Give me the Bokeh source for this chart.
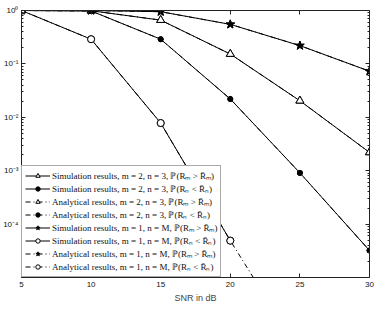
from bokeh.plotting import figure
from bokeh.models import Range1d, FixedTicker, LinearAxis, LogAxis
from bokeh.embed import file_html
from bokeh.resources import INLINE

# ---- data ----
snr = [5, 10, 15, 20, 25, 30]
sim_m2_Rm = [1.0, 0.99, 0.66, 0.153, 0.0204, 0.0022]
sim_m2_Rn = [1.0, 0.98, 0.29, 0.022, 0.00091, 0.000032]
ana_m2_Rm = [1.0, 0.99, 0.66, 0.153, 0.0204, 0.0022]
ana_m2_Rn = [1.0, 0.98, 0.29, 0.022, 0.00091, 0.000032]
sim_m1_Rm = [1.0, 1.0, 0.95, 0.55, 0.22, 0.073]
snr_sim_m1_Rn = [5, 10, 15, 20]
sim_m1_Rn = [1.0, 0.29, 0.0078, 0.000049]
ana_m1_Rm = [1.0, 1.0, 0.95, 0.55, 0.22, 0.073]
ana_m1_Rn = [1.0, 0.29, 0.0078, 0.000049, 0.0000004, 0.000000003]

x_ticks = [5, 10, 15, 20, 25, 30]
y_ticks = [1e-5, 1e-4, 1e-3, 1e-2, 1e-1, 1.0]
y_tick_labels = ["", "10\u207b\u2074", "10\u207b\u00b3", "10\u207b\u00b2", "10\u207b\u00b9", "10\u2070"]

labels = [
    "Simulation results, m = 2, n = 3, \u2119(R\u2098 > R\u0304\u2098)",
    "Simulation results, m = 2, n = 3, \u2119(R\u2099 < R\u0304\u2099)",
    "Analytical results, m = 2, n = 3, \u2119(R\u2098 > R\u0304\u2098)",
    "Analytical results, m = 2, n = 3, \u2119(R\u2099 < R\u0304\u2099)",
    "Simulation results, m = 1, n = M, \u2119(R\u2098 > R\u0304\u2098)",
    "Simulation results, m = 1, n = M, \u2119(R\u2099 < R\u0304\u2099)",
    "Analytical results, m = 1, n = M, \u2119(R\u2098 > R\u0304\u2098)",
    "Analytical results, m = 1, n = M, \u2119(R\u2099 < R\u0304\u2099)",
]

minor = [k * 10.0 ** e for e in range(-5, 0) for k in range(2, 10)]

p = figure(width=374, height=305, x_range=Range1d(5, 30), y_range=Range1d(1e-5, 1.0),
           y_axis_type="log", output_backend="svg", toolbar_location=None,
           min_border_left=18, min_border_right=5, min_border_top=10, min_border_bottom=24)
p.grid.visible = False
p.outline_line_color = None

AX = "#222222"
TICK_FONT = "Liberation Sans"

def style_axis(ax):
    ax.axis_line_color = AX
    ax.major_tick_line_color = AX
    ax.minor_tick_line_color = AX
    ax.major_tick_in = 4
    ax.major_tick_out = 0
    ax.minor_tick_in = 2
    ax.minor_tick_out = 0
    ax.major_label_text_font = TICK_FONT
    ax.major_label_text_font_size = "8px"
    ax.major_label_text_color = "#111111"

def hide_labels(ax, ticks):
    ax.major_label_overrides = {t: "" for t in ticks}
    ax.major_label_text_alpha = 0
    ax.major_label_standoff = 0

xb = p.below[0]
xb.ticker = FixedTicker(ticks=x_ticks)
style_axis(xb)
xb.major_label_standoff = 4
xb.axis_label = "SNR in dB"
xb.axis_label_text_font = TICK_FONT
xb.axis_label_text_font_style = "normal"
xb.axis_label_text_font_size = "9px"
xb.axis_label_standoff = 3

yl = p.left[0]
yl.ticker = FixedTicker(ticks=y_ticks, minor_ticks=minor)
yl.major_label_overrides = dict(zip(y_ticks, y_tick_labels))
style_axis(yl)
yl.major_label_standoff = 3

xt = LinearAxis(ticker=FixedTicker(ticks=x_ticks))
style_axis(xt)
hide_labels(xt, x_ticks)
p.add_layout(xt, "above")

yr = LogAxis(ticker=FixedTicker(ticks=y_ticks, minor_ticks=minor))
style_axis(yr)
hide_labels(yr, y_ticks)
p.add_layout(yr, "right")

SOLID = "solid"
DASHDOT = "5 3 1 3"

def series(x, y, label, dash, marker, size, fill):
    p.line(x, y, line_color="black", line_width=1, line_dash=dash, legend_label=label)
    p.scatter(x, y, marker=marker, size=size, line_color="black", line_width=1,
              fill_color=fill, legend_label=label)

series(snr, ana_m1_Rn, labels[7], DASHDOT, "circle", 7, "white")
series(snr, ana_m1_Rm, labels[6], DASHDOT, "star", 9, "black")
series(snr, ana_m2_Rn, labels[3], DASHDOT, "circle", 5, "black")
series(snr, ana_m2_Rm, labels[2], DASHDOT, "triangle", 8, "white")
series(snr, sim_m2_Rm, labels[0], SOLID, "triangle", 8, "white")
series(snr, sim_m2_Rn, labels[1], SOLID, "circle", 5, "black")
series(snr, sim_m1_Rm, labels[4], SOLID, "star", 9, "black")
series(snr_sim_m1_Rn, sim_m1_Rn, labels[5], SOLID, "circle", 7, "white")

lg = p.legend[0]
order = {lab: i for i, lab in enumerate(labels)}
lg.items = sorted(lg.items, key=lambda it: order[it.label.value])
lg.location = (0, 0)
lg.margin = 0
lg.padding = 3
lg.spacing = 0
lg.glyph_width = 25
lg.glyph_height = 11
lg.label_height = 11
lg.label_standoff = 2
lg.label_text_font = "Liberation Serif"
lg.label_text_font_size = "9px"
lg.label_text_line_height = 0.9
lg.label_text_color = "#111111"
lg.border_line_color = "#555555"
lg.border_line_width = 1
lg.background_fill_color = "white"
lg.background_fill_alpha = 1.0

open("out.html", "w").write(file_html(p, INLINE))
